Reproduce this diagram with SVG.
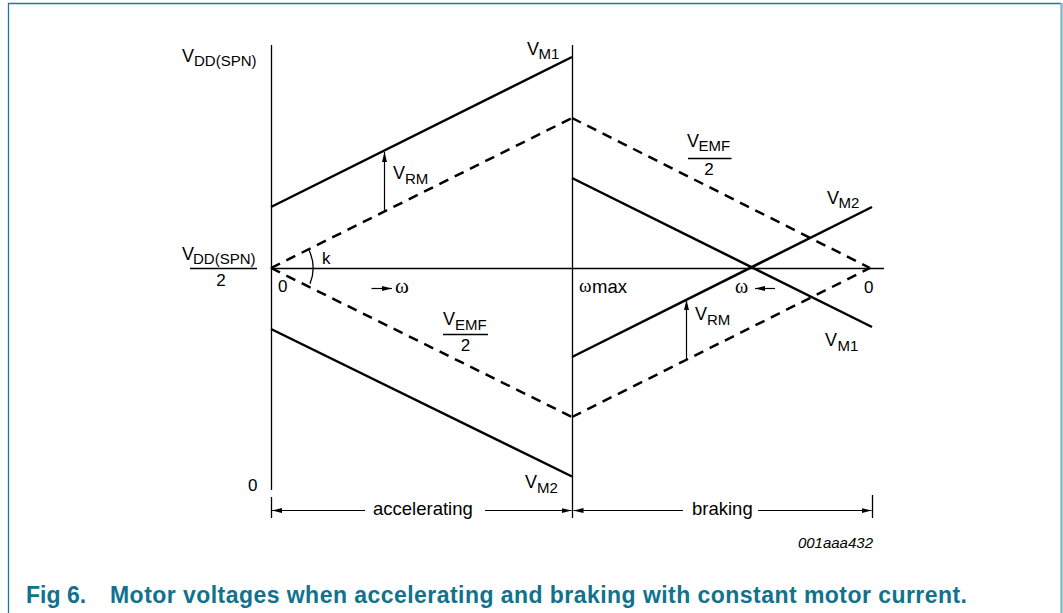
<svg xmlns="http://www.w3.org/2000/svg" width="1063" height="613" viewBox="0 0 1063 613">
<style>
text{font-family:"Liberation Sans",Arial,sans-serif;fill:#000}
.m{font-size:18px}
.s{font-size:15px}
.d{font-size:17px}
.l{font-size:18.5px}
.w{font-family:"Liberation Serif","Times New Roman",serif;font-size:21px}
.id{font-size:15px;font-style:italic}
.cap{font-size:23px;font-weight:bold;fill:#10728c}
.thick{stroke:#000;stroke-width:2.5;fill:none}
.dash{stroke:#000;stroke-width:2.5;fill:none;stroke-dasharray:10 7.1}
.thin{stroke:#000;stroke-width:1.3;fill:none}
.arr{stroke:#000;stroke-width:1.2;fill:none;marker-end:url(#ah)}
</style>
<defs>
<marker id="ah" viewBox="0 0 10 5" refX="10" refY="2.5" markerWidth="10" markerHeight="5" markerUnits="userSpaceOnUse" orient="auto"><path d="M0,0 L10,2.5 L0,5 z" fill="#000"/></marker>
</defs>
<rect width="1063" height="613" fill="#fff"/>
<g id="frame">
<path d="M8.5,613 V3.5 H1061" stroke="#1b7a95" stroke-width="1.3" fill="none"/>
<path d="M1061.5,3 V613" stroke="#74b6c6" stroke-width="2.2" fill="none"/>
</g>
<g id="axes">
<path class="thin" d="M271.5,45 V490 M271.5,497 V518 M572.5,45 V518 M872.5,495 V518 M271,268.5 H884"/>
<path class="thin" d="M309.1,250.3 A42,42 0 0 1 310,283.7"/>
</g>
<g id="curves">
<path class="thick" d="M271,207 L572,57"/>
<path class="thick" d="M271,329 L572,476.5"/>
<path class="thick" d="M572,178 L872,327"/>
<path class="thick" d="M572,357 L872,207"/>
<path class="dash" d="M271,268 L572,118"/>
<path class="dash" d="M572,118 L870,268"/>
<path class="dash" d="M271,268 L572,417"/>
<path class="dash" d="M572,417 L870,268"/>
</g>
<g id="connectors">
<path class="arr" d="M384.5,212 V152"/>
<path class="arr" d="M686.5,360 V300"/>
<path class="arr" d="M371.5,288.5 H392"/>
<path class="arr" d="M775,288.5 H755"/>
<path class="arr" d="M365,510.5 H272"/>
<path class="arr" d="M485,510.5 H571.5"/>
<path class="arr" d="M683,510.5 H573.5"/>
<path class="arr" d="M758,510.5 H871.5"/>
</g>
<g id="labels">
<text class="m" x="182" y="62">V</text><text class="s" x="194" y="66">DD(SPN)</text>
<text class="m" x="182" y="260">V</text><text class="s" x="193" y="264">DD(SPN)</text>
<path class="thin" d="M190,268.5 H257"/>
<text class="d" x="221" y="286" text-anchor="middle">2</text>
<text class="d" x="278" y="292">0</text>
<text class="d" x="322" y="264">k</text>
<text class="w" x="395" y="293">ω</text>
<text class="w" x="579" y="292" style="font-size:19px">ω</text><text class="l" x="592" y="292.5">max</text>
<text class="m" x="393" y="178.5">V</text><text class="s" x="405" y="183.5">RM</text>
<text class="m" x="527" y="55">V</text><text class="s" x="538.5" y="59">M1</text>
<text class="m" x="525" y="488">V</text><text class="s" x="537" y="492.5">M2</text>
<text class="d" x="248" y="491">0</text>
<text class="m" x="443" y="325">V</text><text class="s" x="455" y="329.5">EMF</text>
<path class="thin" d="M443,334.5 H488"/>
<text class="d" x="465.5" y="351" text-anchor="middle">2</text>
<text class="m" x="687" y="147">V</text><text class="s" x="698.5" y="151">EMF</text>
<path class="thin" d="M688,158.5 H731.5"/>
<text class="d" x="709" y="175" text-anchor="middle">2</text>
<text class="m" x="827" y="203.5">V</text><text class="s" x="838.5" y="208">M2</text>
<text class="w" x="735" y="292.5" style="font-size:20px">ω</text>
<text class="d" x="864" y="292.5">0</text>
<text class="m" x="695" y="320">V</text><text class="s" x="707" y="325">RM</text>
<text class="m" x="825" y="346">V</text><text class="s" x="837.5" y="350.5">M1</text>
<text class="l" x="373" y="514.5">accelerating</text>
<text class="l" x="692" y="515">braking</text>
<text class="id" x="873" y="548" text-anchor="end">001aaa432</text>
</g>
<g id="caption">
<text class="cap" x="26" y="603">Fig 6.</text>
<text class="cap" x="110" y="603" textLength="857" lengthAdjust="spacing">Motor voltages when accelerating and braking with constant motor current.</text>
</g>
</svg>
